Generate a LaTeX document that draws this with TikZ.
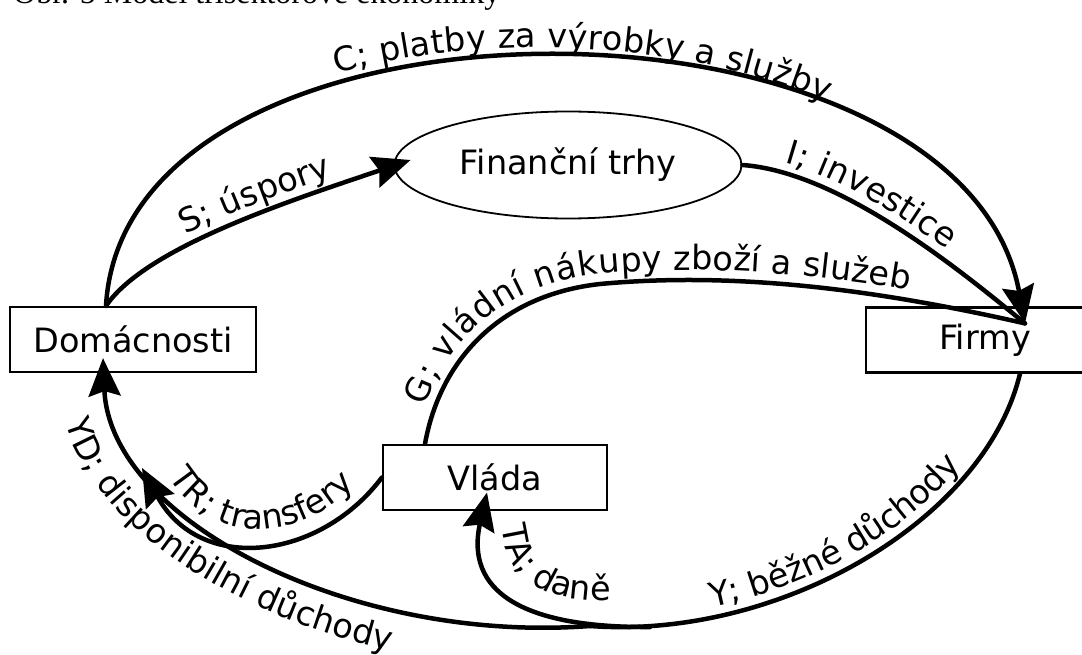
\documentclass[tikz,border=0pt]{standalone}
\usepackage{fontspec}
\setmainfont{DejaVu Sans}
\newfontfamily\capfont{Liberation Serif}
\usetikzlibrary{arrows.meta,shapes.geometric,decorations.text}

\tikzset{
  sector/.style={draw, line width=2.2pt, inner sep=0pt, minimum height=65pt},
  market/.style={ellipse, draw, line width=1.8pt, inner sep=0pt,
    minimum width=347pt, minimum height=107pt},
  flow/.style={line width=4.5pt, line cap=round},
  head/.style={-{Stealth[length=38pt,width=32pt,inset=5pt]}},
  lbl/.style 2 args={postaction={decorate, decoration={text along path,
    text={#2}, raise=10pt, text align={left indent=#1}}}},
  lblrev/.style 2 args={postaction={decorate, decoration={text along path,
    text={#2}, raise=10pt, reverse path, text align={left indent=#1}}}},
  tag/.style 2 args={decorate, decoration={text along path,
    text={#2}, text align={left indent=#1}}},
}

\begin{document}
\fontsize{33.5}{40}\selectfont
\begin{tikzpicture}[x=1pt, y=-1pt]
	\useasboundingbox (0,0) rectangle (1082,655);
	% sektory
	\node[sector, minimum width=246pt] (dom) at (133,339.5) {Domácnosti};
	\node[sector, minimum width=238pt] (firm) at (985,340) {Firmy};
	\node[sector, minimum width=224pt] (gov) at (495,477.5) {Vláda};
	\node[market] (fin) at (568,165) {Finanční trhy};
	\node[anchor=base west, inner sep=0pt, font=\capfont\fontsize{32}{38}\selectfont]
		(cap) at (13,4) {Obr. 5 Model trisektorové ekonomiky};
	% body napojeni
	\coordinate (domout) at ([xshift=-27pt]dom.north);
	\coordinate (domin) at ([xshift=-30pt,yshift=15pt]dom.south);
	\coordinate (firmin) at ([xshift=40pt,yshift=-17pt]firm.north);
	\coordinate (firmout) at ([xshift=35pt]firm.south);
	\coordinate (govtop) at ([xshift=-70pt]gov.north);
	\coordinate (govin) at ([xshift=-8pt,yshift=-15pt]gov.center);
	\coordinate (fintip) at ([xshift=17pt,yshift=5pt]fin.west);
	\coordinate (low) at (590,626);
	\coordinate (tabr) at (650,627);
	\coordinate (trend) at (142,468);
	% toky
	\draw[flow, head, lbl={345pt}{C; platby za výrobky a služby}]
		(domout) .. controls (125,-30) and (960,-26) .. (firmin);
	\draw[flow, head, lbl={105pt}{S; úspory}]
		(domout) .. controls (146,247) and (292,200) .. (fintip);
	\draw[flow, lbl={40pt}{I; investice}]
		(fin.east) .. controls (840,172) and (960,270) .. (firmin);
	\draw[flow, lbl={35pt}{G; vládní nákupy zboží a služeb}]
		(govtop) .. controls (440,360) and (500,295) .. (600,284)
		.. controls (750,270) and (900,295) .. (firmin);
	\draw[flow, lblrev={125pt}{Y; běžné důchody}]
		(firmout) .. controls (985,520) and (780,640) .. (low);
	\draw[flow, head] (low) .. controls (350,644) and (110,520) .. (domin);
	\draw[flow, head] (gov.west) .. controls (320,560) and (200,575) .. (trend);
	\draw[flow, head] (tabr) .. controls (520,628) and (465,590) .. (govin);
	% popisky na ohybech
	\path[tag={38pt}{YD; disponibilní důchody}]
		(60,385) .. controls (64,550) and (343,685) .. (590,667);
	\path[tag={8pt}{TR; transfery}]
		(165,470) .. controls (215,560) and (320,540) .. (375,462);
	\path[tag={16pt}{TA; daně}]
		(501,510) .. controls (501,560) and (522,598) .. (592,600) -- (690,600);
\end{tikzpicture}
\end{document}
